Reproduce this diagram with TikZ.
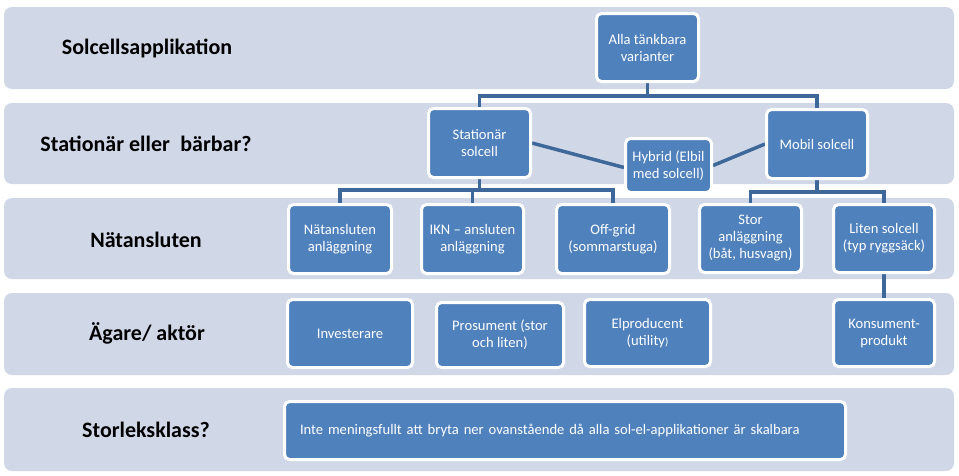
\documentclass[tikz,border=0pt]{standalone}
\usepackage{fontspec}
\setmainfont{Carlito}
\definecolor{bandc}{RGB}{208,216,232}
\definecolor{boxc}{RGB}{79,129,189}
\definecolor{linec}{RGB}{62,104,154}
\pgfdeclarelayer{bg}
\pgfdeclarelayer{mid}
\pgfsetlayers{bg,mid,main}
\begin{document}
\begin{tikzpicture}[x=1pt,y=-1pt,
  band/.style={fill=bandc, rounded corners=8pt, inner sep=0pt, minimum width=950pt},
  box/.style={draw=white, line width=3pt, fill=boxc, rounded corners=5pt, text=white,
    font=\fontsize{14.6}{17}\selectfont, align=center, inner sep=0pt},
  lab/.style={font=\fontsize{22}{26}\selectfont\bfseries, text=black},
  conn/.style={draw=linec, line width=3.5pt}]
\useasboundingbox (0,0) rectangle (959,475);

% bands
\begin{pgfonlayer}{bg}
\node[band, minimum height=82pt] (b1) at (479,48) {};
\node[band, minimum height=81pt] (b2) at (479,143.5) {};
\node[band, minimum height=81pt] (b3) at (479,238.5) {};
\node[band, minimum height=82pt] (b4) at (479,334) {};
\node[band, minimum height=83pt] (b5) at (479,429.5) {};
\end{pgfonlayer}

% row labels
\node[lab] (l1) at (147,48) {Solcellsapplikation};
\node[lab] (l2) at (146,143.5) {Stationär eller\hspace{0.25em} bärbar?};
\node[lab] (l3) at (146,240) {Nätansluten};
\node[lab] (l4) at (147,333) {Ägare/ aktör};
\node[lab] (l5) at (146,430) {Storleksklass?};

% boxes
\node[box, minimum width=102pt, minimum height=68pt] (alla) at (647.5,47.5) {Alla tänkbara\\varianter};
\node[box, minimum width=102pt, minimum height=69pt] (stat) at (479.5,143) {Stationär\\solcell};
\node[box, minimum width=101pt, minimum height=69pt] (mobil) at (817,144) {Mobil solcell};
\node[box, minimum width=86pt, minimum height=54pt] (hybrid) at (668.5,165.5) {Hybrid (Elbil\\med solcell)};

\node[box, minimum width=103pt, minimum height=69pt] (nat) at (340,239) {Nätansluten\\anläggning};
\node[box, minimum width=102pt, minimum height=69pt] (ikn) at (472.5,239) {IKN -- ansluten\\anläggning};
\node[box, minimum width=113pt, minimum height=69pt] (off) at (613,239) {Off-grid\\(sommarstuga)};
\node[box, minimum width=102pt, minimum height=68pt] (stor) at (750.5,238.5) {Stor\\anläggning\\(båt, husvagn)};
\node[box, minimum width=101pt, minimum height=68pt] (liten) at (884,238.5) {Liten solcell\\(typ ryggsäck)};

\node[box, minimum width=125pt, minimum height=68pt] (inv) at (350,333.5) {Investerare};
\node[box, minimum width=127pt, minimum height=65pt] (pros) at (500,335) {Prosument (stor\\och liten)};
\node[box, minimum width=126pt, minimum height=67pt] (elp) at (647.5,333) {Elproducent\\(utility{\fontsize{11}{12}\selectfont)}};
\node[box, minimum width=101pt, minimum height=67pt] (kons) at (884,333) {Konsument-\\produkt};

\node[box, minimum width=561pt, minimum height=58pt, align=left, text width=530pt] (inte) at (565,430.5)
  {Inte meningsfullt att bryta ner ovanstående då alla sol-el-applikationer är skalbara};

% connectors
\begin{pgfonlayer}{mid}
\coordinate (j1) at (647.5,96);
\coordinate (j2) at (479.5,190);
\coordinate (j3) at (817,192);
\draw[conn] (alla.south) -- (j1) -| (stat.north);
\draw[conn] (j1) -| (mobil.north);
\draw[conn] (stat.south) -- (j2) -| (nat.north);
\draw[conn] (j2) -| (ikn.north);
\draw[conn] (j2) -| (off.north);
\draw[conn] (mobil.south) -- (j3) -| (stor.north);
\draw[conn] (j3) -| (liten.north);
\draw[conn] (liten.south) -- (kons.north);
\draw[conn] (stat.east) -- ([yshift=-2pt]hybrid.west);
\draw[conn] (hybrid.east) -- (mobil.west);
\end{pgfonlayer}
\end{tikzpicture}
\end{document}
